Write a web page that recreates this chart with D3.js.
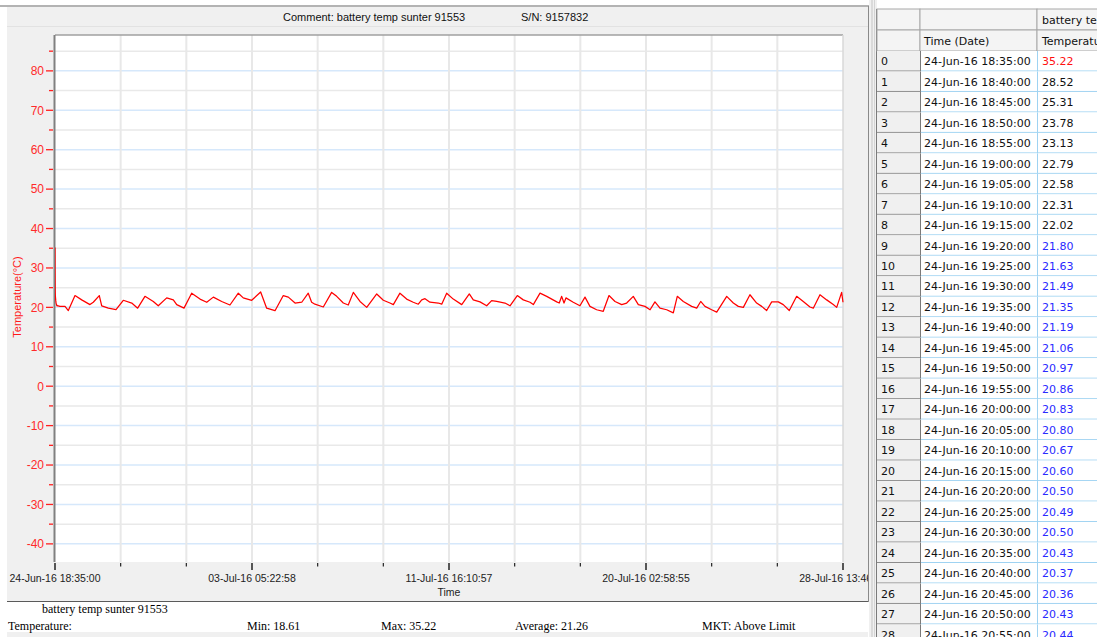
<!DOCTYPE html>
<html><head><meta charset="utf-8">
<script src="https://cdn.jsdelivr.net/npm/d3@7"></script>
<style>body{margin:0;background:#fff;} svg{display:block;}</style>
</head><body><svg id="c" width="1097" height="637"></svg>
<script>
// ---------------- DATA ----------------
const commentText = "Comment: battery temp sunter 91553";
const serialText = "S/N: 9157832";
const seriesName = "battery temp sunter 91553";
const startTime = Date.UTC(2016, 5, 24, 18, 35, 0);
const spanSeconds = 2920314;            // 24-Jun-16 18:35:00 -> 28-Jul-16 13:46:54
const xTickIntervals = 12;
const xLabelEvery = 3;
const yMajorTicks = [-40, -30, -20, -10, 0, 10, 20, 30, 40, 50, 60, 70, 80];
const yMinorTicks = [-35, -25, -15, -5, 5, 15, 25, 35, 45, 55, 65, 75, 85];
const yDomain = [-44.6, 89.1];
const tableTemps = [35.22, 28.52, 25.31, 23.78, 23.13, 22.79, 22.58, 22.31, 22.02, 21.80,
  21.63, 21.49, 21.35, 21.19, 21.06, 20.97, 20.86, 20.83, 20.80, 20.67,
  20.60, 20.50, 20.49, 20.50, 20.43, 20.37, 20.36, 20.43, 20.44];
// [hours since start, temperature]
const trace = [[5.1,20.25],[10.3,20.25],[13.7,19.2],[20.6,23.0],[27.5,21.9],[36.0,20.7],[39.4,21.3],[45.6,23.0],
  [48.1,20.4],[54.9,19.8],[62.8,19.4],[70.3,21.8],[79.0,21.1],[85.1,19.8],[92.6,22.8],[101.2,21.5],
  [106.3,20.4],[115.0,22.4],[121.8,21.9],[125.3,20.7],[132.8,19.8],[140.7,23.6],[149.3,22.1],[156.2,21.3],
  [163.0,22.6],[171.6,21.5],[180.1,20.6],[188.7,23.6],[193.8,22.4],[202.5,21.8],[211.7,23.9],[217.9,19.8],
  [226.5,19.15],[235.0,23.0],[240.2,22.6],[247.1,21.1],[254.0,21.3],[260.7,23.6],[264.2,21.3],[267.6,20.8],
  [276.2,20.1],[284.8,23.8],[290.0,22.8],[296.8,21.1],[301.9,20.6],[307.1,23.8],[314.0,21.5],[320.9,20.0],
  [331.2,23.4],[338.0,21.8],[344.8,21.1],[348.3,20.7],[355.1,23.6],[362.0,22.1],[368.8,21.3],[374.0,20.8],
  [377.5,21.9],[380.9,22.2],[386.0,21.3],[394.6,21.1],[398.1,20.8],[403.2,23.6],[410.0,22.1],[418.7,20.7],
  [426.5,23.4],[430.6,21.9],[437.5,21.4],[444.4,20.4],[449.5,21.7],[454.7,21.5],[463.2,21.1],[468.4,20.4],
  [475.9,23.0],[482.1,21.9],[489.0,21.3],[492.4,20.7],[499.3,23.6],[506.2,22.8],[516.5,21.4],[519.1,21.1],
  [521.6,22.8],[524.0,21.1],[526.0,22.4],[533.5,21.3],[540.4,20.4],[545.6,22.6],[550.7,20.25],[557.6,19.4],
  [564.4,19.0],[570.3,23.0],[576.5,21.5],[583.4,20.7],[588.5,21.1],[595.3,22.8],[600.5,20.7],[607.3,20.25],
  [612.6,19.4],[617.6,21.4],[622.8,19.8],[629.7,19.4],[636.5,18.61],[640.6,22.8],[646.8,21.5],[655.4,20.25],
  [660.6,19.8],[664.7,21.5],[669.1,20.25],[676.0,19.4],[681.2,18.8],[691.5,22.8],[698.3,21.1],[703.4,20.25],
  [708.6,20.0],[715.4,23.2],[722.3,21.1],[727.5,20.25],[732.6,19.2],[737.8,21.4],[744.6,21.4],[749.7,20.7],
  [755.9,19.2],[763.5,22.8],[770.3,21.5],[777.2,20.1],[780.6,19.8],[787.5,23.2],[794.4,21.9],[801.2,20.7],
  [804.7,20.0],[809.8,23.8],[811.2,21.3]];
const statLabels = ["Min: 18.61", "Max: 35.22", "Average: 21.26", "MKT: Above Limit"];
const tableHeaders = ["Time (Date)", "Temperature(°C)"];

// ---------------- DRAW ----------------
const svg = d3.select("#c");
const W = 1097, H = 637;
const sans = "'Liberation Sans', Arial, sans-serif";
const serif = "'Liberation Serif', 'Times New Roman', serif";
const tab = "'DejaVu Sans', Verdana, sans-serif";

const endTime = startTime + spanSeconds * 1000;
const series = tableTemps.map((v, i) => ({t: new Date(startTime + i * 300000), v}))
  .concat(trace.map(d => ({t: new Date(startTime + d[0] * 3600000), v: d[1]})));

const P = {l: 55, r: 843, t: 35, b: 562};
const x = d3.scaleUtc().domain([new Date(startTime), new Date(endTime)]).range([P.l, P.r]);
const y = d3.scaleLinear().domain(yDomain).range([P.b, P.t]);

// panel background
svg.append("rect").attr("x", 0).attr("y", 0).attr("width", W).attr("height", H).attr("fill", "#fff");
svg.append("rect").attr("x", 7).attr("y", 7).attr("width", 861).attr("height", 595).attr("fill", "#f0f0f0");
svg.append("line").attr("x1", 0).attr("x2", 870).attr("y1", 6).attr("y2", 6).attr("stroke", "#9a9a9a").attr("stroke-width", 1.5);
svg.append("line").attr("x1", 7).attr("x2", 868).attr("y1", 26.5).attr("y2", 26.5).attr("stroke", "#e2e2e2");
svg.append("line").attr("x1", 7).attr("x2", 868).attr("y1", 601.5).attr("y2", 601.5).attr("stroke", "#5a5a5a");
svg.append("line").attr("x1", 868.5).attr("x2", 868.5).attr("y1", 6).attr("y2", 602).attr("stroke", "#8a8a8a");
svg.append("rect").attr("x", 7).attr("y", 632).attr("width", 861).attr("height", 5).attr("fill", "#f0f0f0");

// header text
svg.append("text").attr("x", 283).attr("y", 21).attr("font-family", sans).attr("font-size", 11).attr("fill", "#111").text(commentText);
svg.append("text").attr("x", 521).attr("y", 21).attr("font-family", sans).attr("font-size", 11).attr("fill", "#111").text(serialText);

// plot area
svg.append("rect").attr("x", P.l).attr("y", P.t).attr("width", P.r - P.l).attr("height", P.b - P.t).attr("fill", "#fff");

const xTicks = d3.range(xTickIntervals + 1).map(i => new Date(startTime + i * spanSeconds * 1000 / xTickIntervals));

// grid
const g = svg.append("g");
g.selectAll(".hmin").data(yMinorTicks.filter(v => v > yDomain[0] && v < yDomain[1])).join("line")
  .attr("x1", P.l).attr("x2", P.r).attr("y1", d => y(d)).attr("y2", d => y(d))
  .attr("stroke", "#e9e9e9").attr("stroke-width", 1.5);
g.selectAll(".hmaj").data(yMajorTicks).join("line")
  .attr("x1", P.l).attr("x2", P.r).attr("y1", d => y(d)).attr("y2", d => y(d))
  .attr("stroke", "#d6e8fb").attr("stroke-width", 1.5);
g.selectAll(".vg").data(xTicks.slice(1, -1)).join("line")
  .attr("x1", d => x(d)).attr("x2", d => x(d)).attr("y1", P.t).attr("y2", P.b)
  .attr("stroke", "#e8e8e8").attr("stroke-width", 2);
// borders
svg.append("line").attr("x1", P.l).attr("x2", P.r).attr("y1", P.t).attr("y2", P.t).attr("stroke", "#a0a0a0").attr("stroke-width", 1.5);
svg.append("line").attr("x1", P.r).attr("x2", P.r).attr("y1", P.t).attr("y2", P.b).attr("stroke", "#d8d8d8").attr("stroke-width", 1.5);

// y axis
svg.append("line").attr("x1", P.l - 0.5).attr("x2", P.l - 0.5).attr("y1", P.t).attr("y2", P.b).attr("stroke", "#808080").attr("stroke-width", 2);
svg.selectAll(".ymajt").data(yMajorTicks).join("line")
  .attr("x1", 46).attr("x2", 53).attr("y1", d => y(d)).attr("y2", d => y(d)).attr("stroke", "#ff2020").attr("stroke-width", 1.3);
svg.selectAll(".ymint").data(yMinorTicks.filter(v => v > yDomain[0] && v < yDomain[1])).join("line")
  .attr("x1", 49).attr("x2", 53).attr("y1", d => y(d)).attr("y2", d => y(d)).attr("stroke", "#ff2020").attr("stroke-width", 1.3);
svg.selectAll(".ylab").data(yMajorTicks).join("text")
  .attr("x", 44).attr("y", d => y(d)).attr("dy", "0.36em").attr("text-anchor", "end")
  .attr("font-family", sans).attr("font-size", 12).attr("fill", "#ff2a2a").text(d => d);
svg.append("text").attr("transform", "translate(21,297) rotate(-90)").attr("text-anchor", "middle")
  .attr("font-family", sans).attr("font-size", 11).attr("fill", "#ff1a1a").text("Temperature(°C)");

// x axis
const fmt = d3.utcFormat("%d-%b-%y %H:%M:%S");
svg.append("clipPath").attr("id", "panelclip").append("rect").attr("x", 7).attr("y", 7).attr("width", 861).attr("height", 595);
const xa = svg.append("g").attr("clip-path", "url(#panelclip)");
xa.selectAll(".xt").data(xTicks).join("line")
  .attr("x1", d => x(d)).attr("x2", d => x(d)).attr("y1", 563)
  .attr("y2", (d, i) => i % xLabelEvery === 0 ? 570 : 566.5)
  .attr("stroke", "#222").attr("stroke-width", (d, i) => i % xLabelEvery === 0 ? 1.5 : 1.2);
xa.selectAll(".xl").data(xTicks.filter((d, i) => i % xLabelEvery === 0)).join("text")
  .attr("x", d => x(d)).attr("y", 582).attr("text-anchor", "middle")
  .attr("font-family", sans).attr("font-size", 10.5).attr("fill", "#222").text(d => fmt(d));
svg.append("text").attr("x", 449).attr("y", 595.5).attr("text-anchor", "middle")
  .attr("font-family", sans).attr("font-size", 10.5).attr("fill", "#222").text("Time");

// line
svg.append("clipPath").attr("id", "plotclip").append("rect").attr("x", P.l).attr("y", P.t).attr("width", P.r - P.l + 1).attr("height", P.b - P.t);
svg.append("path").datum(series).attr("clip-path", "url(#plotclip)")
  .attr("fill", "none").attr("stroke", "#ff0000").attr("stroke-width", 1.25).attr("stroke-linejoin", "round")
  .attr("d", d3.line().x(d => x(d.t)).y(d => y(d.v)));

// bottom stats
svg.append("text").attr("x", 42).attr("y", 613).attr("font-family", serif).attr("font-size", 12).attr("fill", "#000").text(seriesName);
svg.append("text").attr("x", 8).attr("y", 629.5).attr("font-family", serif).attr("font-size", 12).attr("fill", "#000").text("Temperature:");
const statX = [247, 381, 515, 702];
svg.selectAll(".st").data(statLabels).join("text")
  .attr("x", (d, i) => statX[i]).attr("y", 629.5).attr("font-family", serif).attr("font-size", 12).attr("fill", "#000").text(d => d);

// separator
svg.append("rect").attr("x", 869).attr("y", 0).attr("width", 8).attr("height", H).attr("fill", "#f0f0f0");
svg.append("line").attr("x1", 872).attr("x2", 872).attr("y1", 0).attr("y2", H).attr("stroke", "#c4c4c4");
svg.append("line").attr("x1", 874.5).attr("x2", 874.5).attr("y1", 0).attr("y2", H).attr("stroke", "#d4d4d4");
svg.append("line").attr("x1", 876.5).attr("x2", 876.5).attr("y1", 9).attr("y2", H).attr("stroke", "#7a7a7a");

// table
const cx = [877, 920, 1037, 1200];
const rowH = 20.48;
const hdrY = [9, 30, 51];
const tg = svg.append("g");
[0, 1].forEach(r => {
  [0, 1, 2].forEach(c => {
    tg.append("rect").attr("x", cx[c]).attr("y", hdrY[r]).attr("width", cx[c + 1] - cx[c]).attr("height", hdrY[r + 1] - hdrY[r])
      .attr("fill", "#f4f4f4").attr("stroke", "#a8a8a8").attr("stroke-width", 1);
  });
});
tg.append("text").attr("x", 1042).attr("y", 20).attr("dy", "0.36em").attr("font-family", tab).attr("font-size", 11).attr("fill", "#111").text(seriesName);
tg.append("text").attr("x", 924).attr("y", 41).attr("dy", "0.36em").attr("font-family", tab).attr("font-size", 11).attr("fill", "#111").text(tableHeaders[0]);
tg.append("text").attr("x", 1042).attr("y", 41).attr("dy", "0.36em").attr("font-family", tab).attr("font-size", 11).attr("fill", "#111").text(tableHeaders[1]);

const rows = tableTemps.map((v, i) => ({i, v, t: new Date(startTime + i * 300000)}));
const rowG = tg.selectAll(".row").data(rows).join("g").attr("transform", d => `translate(0,${51 + d.i * rowH})`);
rowG.append("rect").attr("x", cx[1]).attr("y", 0).attr("width", cx[3] - cx[1]).attr("height", rowH).attr("fill", "#fff");
rowG.append("rect").attr("x", cx[0]).attr("y", 0).attr("width", cx[1] - cx[0]).attr("height", rowH).attr("fill", "#f0f0f0");
rowG.append("line").attr("x1", cx[1]).attr("x2", cx[3]).attr("y1", rowH - 0.5).attr("y2", rowH - 0.5).attr("stroke", "#9fd3f2");
rowG.append("line").attr("x1", cx[0]).attr("x2", cx[1]).attr("y1", rowH - 0.5).attr("y2", rowH - 0.5).attr("stroke", "#8c8c8c");
rowG.append("line").attr("x1", cx[2] + 0.5).attr("x2", cx[2] + 0.5).attr("y1", 0).attr("y2", rowH).attr("stroke", "#9fd3f2");
rowG.append("line").attr("x1", cx[1] + 0.5).attr("x2", cx[1] + 0.5).attr("y1", 0).attr("y2", rowH).attr("stroke", "#7a7a7a");
const tfmt = d3.utcFormat("%d-%b-%y %H:%M:%S");
rowG.append("text").attr("x", 881).attr("y", rowH / 2).attr("dy", "0.36em").attr("font-family", tab).attr("font-size", 11).attr("fill", "#111").text(d => d.i);
rowG.append("text").attr("x", 924).attr("y", rowH / 2).attr("dy", "0.36em").attr("font-family", tab).attr("font-size", 11).attr("fill", "#111").text(d => tfmt(d.t));
rowG.append("text").attr("x", 1042).attr("y", rowH / 2).attr("dy", "0.36em").attr("font-family", tab).attr("font-size", 11)
  .attr("fill", d => d.v > 35 ? "#ff1010" : (d.v < 22 ? "#2a2aff" : "#111")).text(d => d.v.toFixed(2));
</script></body></html>
